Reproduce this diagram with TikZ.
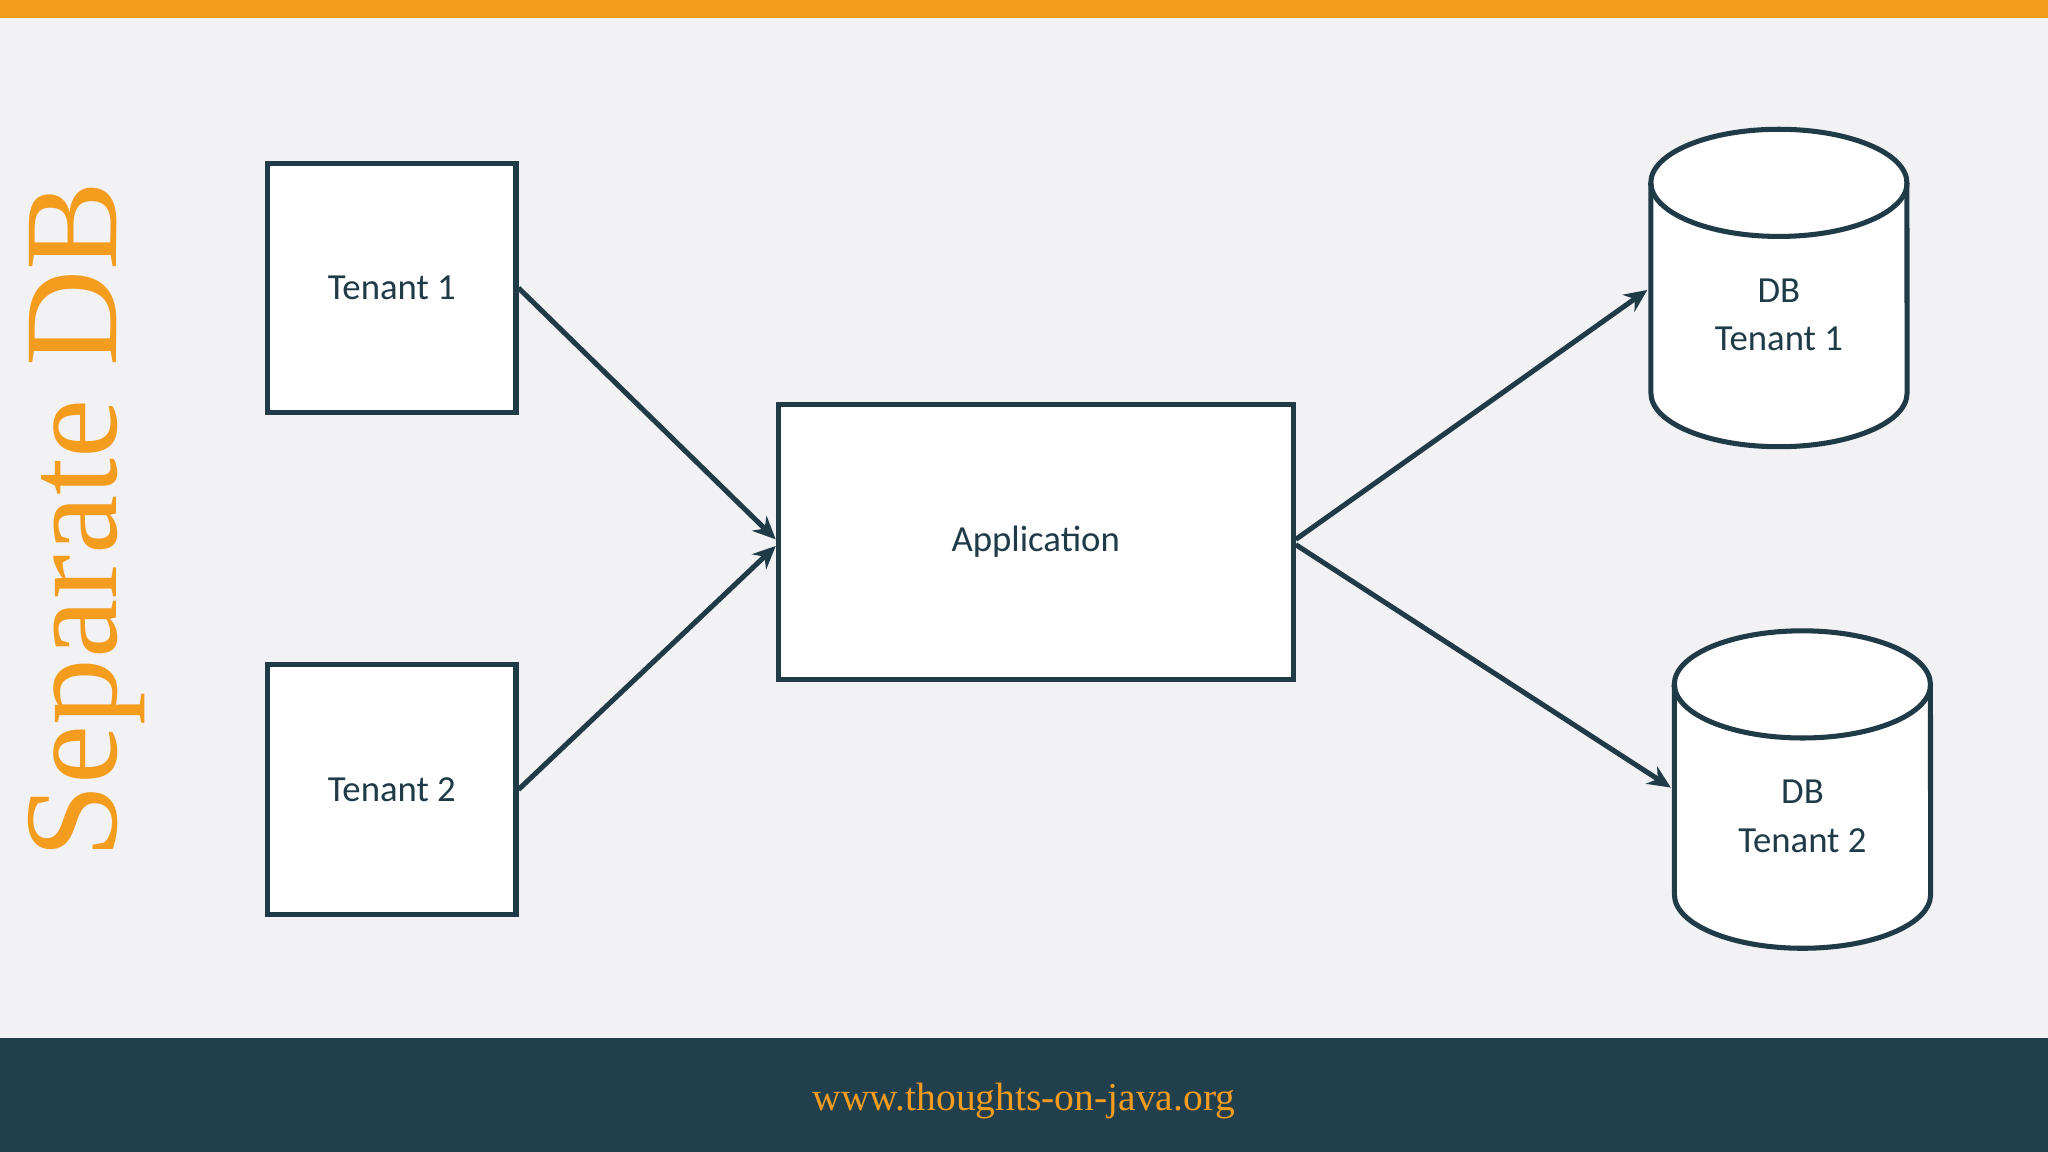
\documentclass[tikz,border=0pt]{standalone}
\usepackage{fontspec}
\setmainfont{Liberation Serif}
\newfontfamily\bodyfont{Carlito}
\usetikzlibrary{arrows.meta}
\definecolor{orng}{HTML}{F39C1E}
\definecolor{bg}{HTML}{F2F1F3}
\definecolor{navy}{HTML}{213F4D}
\definecolor{ln}{HTML}{1F3B47}
\tikzset{
 box/.style={draw=ln,line width=1.1pt,fill=white,inner sep=0pt,font=\bodyfont\fontsize{8}{9.6}\selectfont,text=ln,align=center},
 conn/.style={draw=ln,line width=1.1pt,-{Stealth[length=5pt,width=4.5pt]}},
 dbbody/.style={inner sep=0pt,minimum width=1.96cm,minimum height=2.4cm,font=\bodyfont\fontsize{8}{10.5}\selectfont,text=ln,align=center}
}
\begin{document}
\begin{tikzpicture}[x=0.01cm,y=-0.01cm]
\fill[bg] (0,0) rectangle (1568,882);
\useasboundingbox (0,0) rectangle (1568,882);
\fill[orng] (0,0) rectangle (1568,14);
\fill[navy] (0,795) rectangle (1568,882);
\node[text=orng,font=\fontsize{8.6}{9}\selectfont] (url) at (784,843) {www.thoughts-on-java.org};
\node[text=orng,rotate=90,font=\fontsize{29}{32}\selectfont] (title) at (66,398) {Separate DB};
\node[box,minimum width=1.9cm,minimum height=1.91cm] (t1) at (300,220.5) {Tenant 1};
\node[box,minimum width=1.9cm,minimum height=1.91cm] (t2) at (300,604.5) {Tenant 2};
\node[box,minimum width=3.94cm,minimum height=2.1cm] (app) at (793,415) {Application};
% cylinders
\foreach \cx/\ty in {1362/140,1380/524}{
 \filldraw[draw=ln,line width=1.1pt,fill=white]
   (\cx-98,\ty) -- (\cx-98,\ty+161) arc[start angle=180,end angle=360,x radius=0.98cm,y radius=0.41cm]
   -- (\cx+98,\ty) arc[start angle=0,end angle=180,x radius=0.98cm,y radius=0.41cm] -- cycle;
 \draw[ln,line width=1.1pt] (\cx-98,\ty) arc[start angle=180,end angle=360,x radius=0.98cm,y radius=0.41cm];
}
\node[dbbody] (db1) at (1362,241) {DB\\Tenant 1};
\node[dbbody] (db2) at (1380,625) {DB\\Tenant 2};
\draw[conn] (t1.east) -- ([yshift=0.02cm]app.west);
\draw[conn] (t2.east) -- ([yshift=-0.03cm]app.west);
\draw[conn] ([yshift=0.02cm]app.east) -- ([xshift=-0.02cm,yshift=0.19cm]db1.west);
\draw[conn] ([yshift=-0.02cm]app.east) -- ([xshift=-0.02cm,yshift=0.22cm]db2.west);
\end{tikzpicture}
\end{document}
